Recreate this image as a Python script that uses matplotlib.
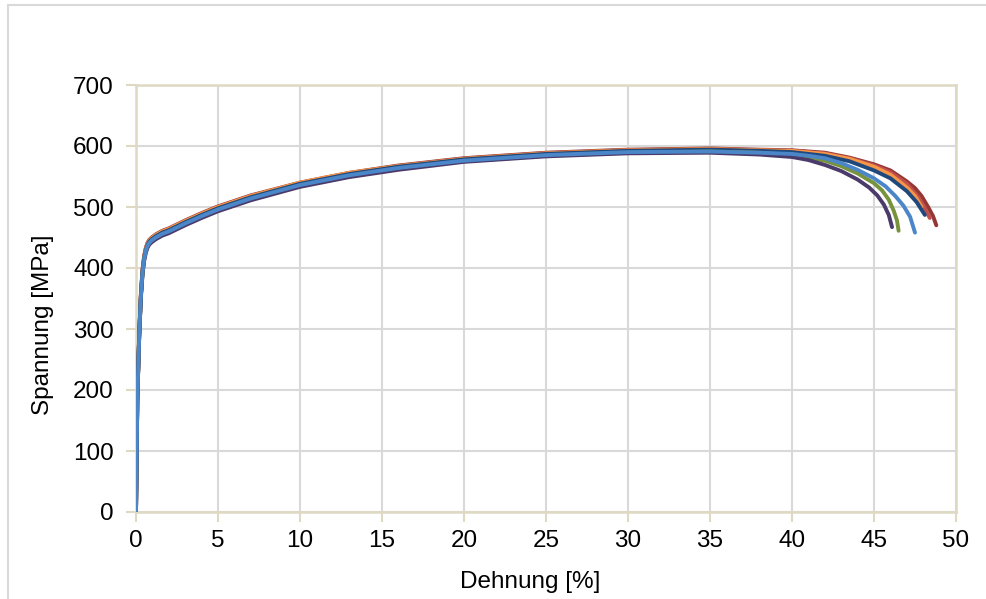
import matplotlib
matplotlib.use("Agg")
import matplotlib.pyplot as plt
from matplotlib.patches import Rectangle

plt.rcParams["font.family"] = ["Liberation Sans", "DejaVu Sans"]

# Shared strain grid for the elastic part and uniform elongation [%]
strain_body = [0, 0.08, 0.2, 0.3, 0.4, 0.5, 0.6, 0.7, 0.8, 0.95, 1.2, 1.6, 2, 3, 4, 5, 7,
               10, 13, 16, 20, 25, 30, 35, 38]

# Stress values [MPa] per specimen on the shared grid
stress_darkred = [0, 186, 296, 358, 398, 420, 433, 441, 446, 450, 455, 461, 465, 478, 490,
                  501, 519, 540, 556, 568, 580, 589, 594, 596, 594]
stress_red = [0, 186, 295, 357, 397, 419, 432, 440, 445, 449, 454, 460, 464, 477, 489,
              500, 518, 539, 555, 567, 579, 588, 593, 595, 593]
stress_orange = [0, 185, 295, 357, 397, 419, 432, 440, 445, 449, 454, 460, 464, 477, 489,
                 500, 518, 540, 556, 567, 579, 588, 593, 595, 593]
stress_navy = [0, 185, 294, 356, 395, 417, 430, 438, 443, 447, 452, 458, 462, 475, 487,
               498, 516, 538, 554, 566, 578, 587, 592, 594, 592]
stress_green = [0, 184, 292, 354, 392, 414, 427, 435, 440, 444, 449, 455, 459, 472, 484,
                495, 513, 535, 551, 563, 575, 584, 589, 591, 589]
stress_purple = [0, 183, 290, 352, 390, 412, 425, 433, 438, 442, 447, 453, 457, 470, 482,
                 493, 511, 533, 549, 561, 574, 583, 588, 589, 586]
stress_blue = [0, 185, 293, 355, 393, 415, 428, 436, 441, 445, 450, 456, 460, 473, 485,
               496, 514, 536, 552, 564, 576, 585, 590, 591, 589]

# Necking and fracture part per specimen: (strain [%], stress [MPa])
tail_darkred = [(40, 593), (42, 589), (43.5, 581), (45, 570), (46, 560), (47, 542),
                (47.5, 531), (47.9, 518), (48.3, 500), (48.6, 485), (48.8, 470)]
tail_red = [(40, 592), (42, 588), (43.5, 580), (45, 568), (46, 557), (47, 538),
            (47.7, 516), (48.1, 498), (48.4, 482)]
tail_orange = [(40, 592), (42, 587), (43.5, 579), (45, 566), (46, 553), (47, 532),
               (47.5, 518), (47.9, 500)]
tail_navy = [(40, 590), (42, 584), (43.5, 575), (45, 560), (46, 547), (47, 526),
             (47.6, 508), (48.1, 487)]
tail_green = [(40, 585), (41, 581), (42, 576), (43, 567), (44, 555), (45, 539),
              (45.5, 527), (45.9, 512), (46.2, 494), (46.4, 478), (46.5, 461)]
tail_purple = [(40, 582), (41, 577), (42, 569), (43, 559), (44, 545), (44.7, 532),
               (45.2, 519), (45.6, 504), (45.9, 487), (46.1, 467)]
tail_blue = [(40, 587), (41, 584), (42, 580), (43, 572), (44, 561), (45, 547),
             (45.7, 534), (46.3, 518), (46.8, 502), (47.2, 484), (47.5, 458)]

specimens = [
    ("#953735", stress_darkred, tail_darkred),
    ("#c0504d", stress_red, tail_red),
    ("#f79646", stress_orange, tail_orange),
    ("#1f497d", stress_navy, tail_navy),
    ("#77933c", stress_green, tail_green),
    ("#4b3b6b", stress_purple, tail_purple),
    ("#4a86c8", stress_blue, tail_blue),
]

x_ticks = [0, 5, 10, 15, 20, 25, 30, 35, 40, 45, 50]
y_ticks = [0, 100, 200, 300, 400, 500, 600, 700]

fig = plt.figure(figsize=(9.87, 5.99), dpi=100)
W, H = 987, 599

# chart area border
fig.patches.append(Rectangle((8 / W, -0.05), (1000 - 8) / W, (H - 5) / H + 0.05,
                             transform=fig.transFigure, fill=False,
                             edgecolor="#d9d9d9", linewidth=1.5))

ax = fig.add_axes([136 / W, 1 - 512 / H, (956 - 136) / W, (512 - 85) / H])

for color, body, tail in specimens:
    xs = list(strain_body) + [p[0] for p in tail]
    ys = list(body) + [p[1] for p in tail]
    ax.plot(xs, ys, color=color, linewidth=2.8, solid_capstyle="round",
            solid_joinstyle="round", zorder=3)

ax.set_xlim(0, 50)
ax.set_ylim(0, 700)
ax.set_xticks(x_ticks)
ax.set_yticks(y_ticks)
ax.set_xticklabels([str(v) for v in x_ticks])
ax.set_yticklabels([str(v) for v in y_ticks])

ax.grid(True, color="#d9d9d9", linewidth=1.5, zorder=0)
ax.set_axisbelow(True)

axis_color = "#ddd9c3"
for side in ["left", "right", "top", "bottom"]:
    ax.spines[side].set_color(axis_color)
    ax.spines[side].set_linewidth(1.8)

ax.tick_params(axis="both", direction="out", length=7, width=1.5, color=axis_color,
               labelsize=17.5, labelcolor="black")
ax.tick_params(axis="y", pad=9)
ax.tick_params(axis="x", pad=6)

ax.set_xlabel("Dehnung [%]", fontsize=17.5)
ax.set_ylabel("Spannung [MPa]", fontsize=17.5)
# label anchors in axes coordinates
ax.xaxis.set_label_coords((530 - 136) / (956 - 136), -(582 - 512) / (512 - 85))
ax.yaxis.set_label_coords(-(136 - 43) / (956 - 136), (512 - 325) / (512 - 85))
ax.xaxis.label.set_verticalalignment("center")
ax.yaxis.label.set_verticalalignment("center")

fig.savefig("out.png", dpi=100)
